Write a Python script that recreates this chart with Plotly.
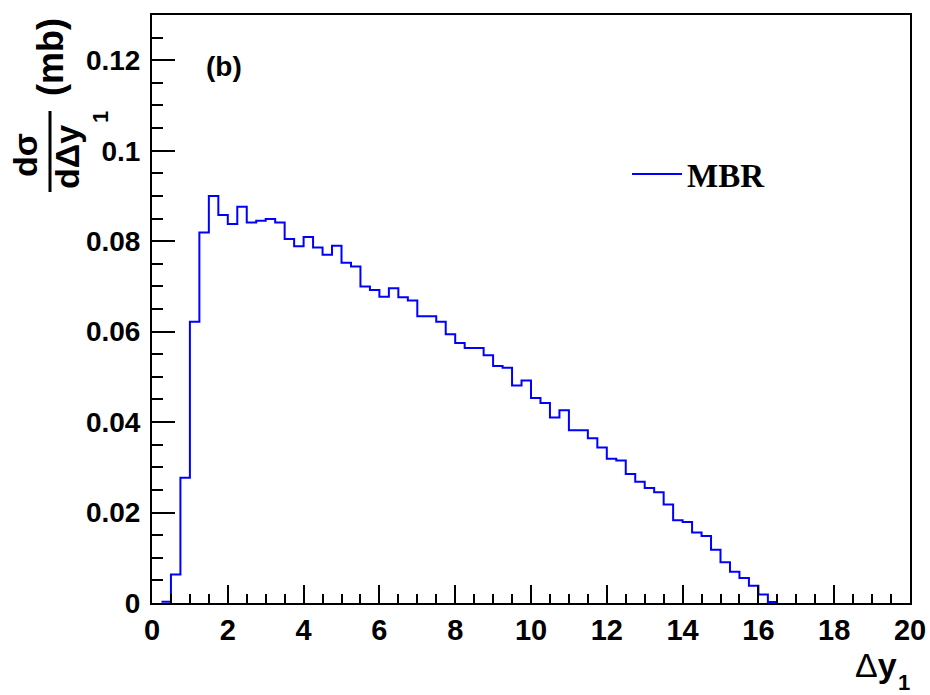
import plotly.graph_objects as go

# ---- data ----
bin_low_edges = [0.25, 0.5, 0.75, 1.0, 1.25, 1.5, 1.75, 2.0, 2.25, 2.5, 2.75, 3.0, 3.25,
                 3.5, 3.75, 4.0, 4.25, 4.5, 4.75, 5.0, 5.25, 5.5, 5.75, 6.0, 6.25, 6.5,
                 6.75, 7.0, 7.25, 7.5, 7.75, 8.0, 8.25, 8.5, 8.75, 9.0, 9.25, 9.5, 9.75,
                 10.0, 10.25, 10.5, 10.75, 11.0, 11.25, 11.5, 11.75, 12.0, 12.25, 12.5,
                 12.75, 13.0, 13.25, 13.5, 13.75, 14.0, 14.25, 14.5, 14.75, 15.0, 15.25,
                 15.5, 15.75, 16.0, 16.25]
last_edge = 16.5
mbr_values = [0.0003, 0.0063, 0.0277, 0.0622, 0.0819, 0.0900, 0.0858, 0.0838, 0.0876,
              0.0841, 0.0845, 0.0849, 0.0841, 0.0805, 0.0789, 0.0809, 0.0786, 0.0770,
              0.0790, 0.0752, 0.0744, 0.0700, 0.0692, 0.0677, 0.0696, 0.0676, 0.0669,
              0.0634, 0.0634, 0.0622, 0.0594, 0.0575, 0.0564, 0.0564, 0.0548, 0.0524,
              0.0520, 0.0481, 0.0492, 0.0453, 0.0442, 0.0410, 0.0426, 0.0382, 0.0382,
              0.0364, 0.0344, 0.0319, 0.0315, 0.0285, 0.0268, 0.0254, 0.0245, 0.0218,
              0.0183, 0.0179, 0.0156, 0.0148, 0.0118, 0.0090, 0.0069, 0.0055, 0.0038,
              0.0019, 0.0002]
x_tick_vals = [0, 2, 4, 6, 8, 10, 12, 14, 16, 18, 20]
x_tick_text = ["0", "2", "4", "6", "8", "10", "12", "14", "16", "18", "20"]
y_tick_vals = [0, 0.02, 0.04, 0.06, 0.08, 0.10, 0.12]
y_tick_text = ["0", "0.02", "0.04", "0.06", "0.08", "0.1", "0.12"]
series_name = "MBR"

# ---- geometry ----
W_FIG, H_FIG = 930, 695
L, R, T, B = 152, 20, 15, 92
PW = W_FIG - L - R
PH = H_FIG - T - B


def px(x):
    return (x - L) / PW


def py(y):
    return (H_FIG - B - y) / PH


SANS = "Liberation Sans"

fig = go.Figure()
fig.add_trace(go.Scatter(
    x=bin_low_edges + [last_edge],
    y=mbr_values + [mbr_values[-1]],
    mode="lines",
    line=dict(shape="hv", color="#0000ff", width=2),
    name=series_name,
    showlegend=True,
))

axis_common = dict(
    showline=True, linecolor="black", linewidth=2, mirror=True,
    showgrid=False, zeroline=False, ticks="inside", tickcolor="black",
    tickwidth=2, automargin=False,
)

fig.update_xaxes(
    range=[0, 20], tickmode="array", tickvals=x_tick_vals, ticktext=x_tick_text,
    ticklen=18,
    minor=dict(dtick=0.5, ticks="inside", ticklen=9, tickcolor="black", tickwidth=2),
    tickfont=dict(family=SANS, size=29, color="black", weight="bold"),
    **axis_common,
)
fig.update_yaxes(
    range=[0, 0.13], tickmode="array", tickvals=y_tick_vals, ticktext=y_tick_text,
    ticklen=23,
    minor=dict(dtick=0.005, ticks="inside", ticklen=11, tickcolor="black", tickwidth=2),
    tickfont=dict(family=SANS, size=28, color="black", weight="bold"),
    ticklabelstandoff=4,
    **axis_common,
)

annotations = [
    # y title: fraction d sigma / d Delta y_1 (mb)
    dict(text="<b>dσ</b>", x=px(25), y=py(155), textangle=-90, font=dict(size=34)),
    dict(text="<b>dΔy</b>", x=px(67), y=py(157), textangle=-90, font=dict(size=34)),
    dict(text="<b>1</b>", x=px(101), y=py(117), textangle=-90, font=dict(size=22)),
    dict(text="<b>(mb)</b>", x=px(51), y=py(57), textangle=-90, font=dict(size=36)),
    # x title
    dict(text="Δ<b>y</b>", x=px(899), y=py(665), xanchor="right", font=dict(size=34)),
    dict(text="<b>1</b>", x=px(904), y=py(682), font=dict(size=22)),
    # panel label
    dict(text="<b>(b)</b>", x=px(224), y=py(66), font=dict(size=28)),
]
for a in annotations:
    a.setdefault("xanchor", "center")
    a.update(xref="paper", yref="paper", yanchor="middle", showarrow=False)
    a["font"].update(family=SANS, color="black")

fig.update_layout(
    width=W_FIG, height=H_FIG,
    margin=dict(l=L, r=R, t=T, b=B, pad=0, autoexpand=False),
    paper_bgcolor="white", plot_bgcolor="white",
    annotations=annotations,
    shapes=[dict(type="line", xref="paper", yref="paper",
                 x0=px(50), x1=px(50), y0=py(111), y1=py(192),
                 line=dict(color="black", width=3))],
    legend=dict(
        x=px(627), y=py(174), xanchor="left", yanchor="middle",
        bgcolor="rgba(0,0,0,0)", borderwidth=0,
        font=dict(family="Liberation Serif", size=33, color="black", weight="bold"),
        itemwidth=50,
    ),
    showlegend=True,
)

fig.write_html("out.html", config={"displayModeBar": False},
               post_script="document.body.style.margin='0px';")
